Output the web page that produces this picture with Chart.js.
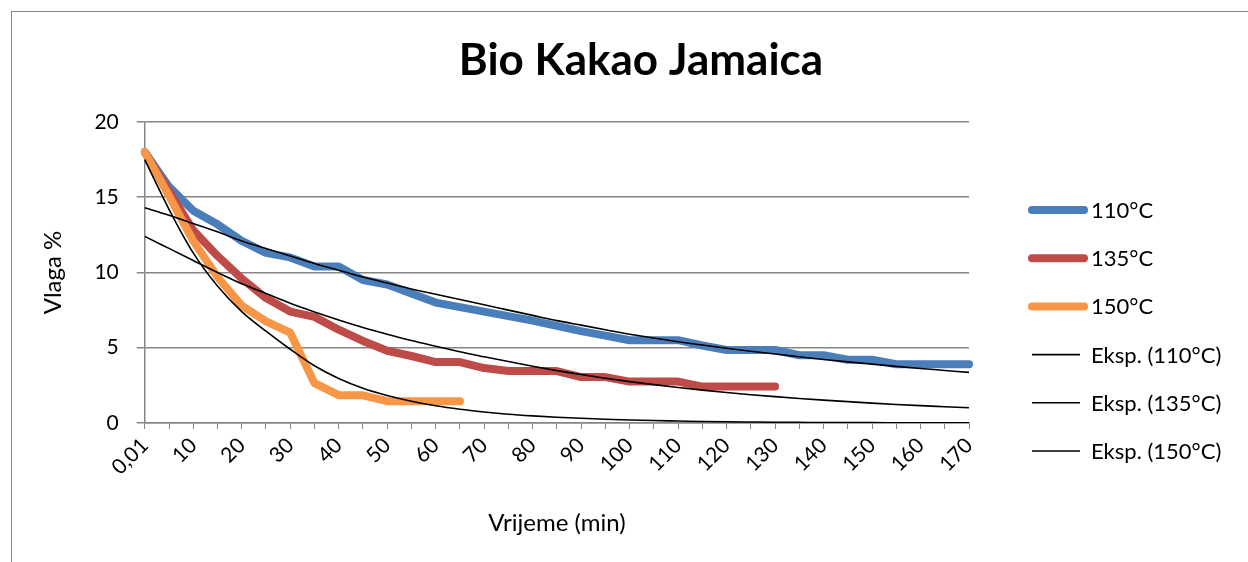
<!DOCTYPE html>
<html>
<head>
<meta charset="utf-8">
<script src="https://cdn.jsdelivr.net/npm/chart.js@4.4.1/dist/chart.umd.min.js"></script>
<style>
  html, body { margin: 0; padding: 0; background: #fff; overflow: hidden; }
  .frame { position: absolute; left: 11px; top: 11px; width: 1300px; height: 600px; border-left: 1px solid #868686; border-top: 1px solid #868686; }
  .box { position: absolute; left: 12px; top: 12px; width: 1258px; height: 550px; }
</style>
</head>
<body>
<div class="frame"></div>
<div class="box"><canvas id="dryingChart"></canvas></div>
<script>
// time categories (min)
const minutes = ['0,01', '5', '10', '15', '20', '25', '30', '35', '40', '45', '50', '55', '60', '65', '70', '75', '80', '85',
    '90', '95', '100', '105', '110', '115', '120', '125', '130', '135', '140', '145', '150', '155', '160', '165', '170'];

// measured moisture %
const vlaga110 = [18.0, 15.7, 14.1, 13.2, 12.1, 11.3, 11.0, 10.4, 10.4, 9.5, 9.2, 8.6, 8.0, 7.7, 7.4, 7.1, 6.8, 6.45,
    6.1, 5.8, 5.5, 5.5, 5.5, 5.15, 4.85, 4.85, 4.85, 4.5, 4.5, 4.2, 4.2, 3.9, 3.9, 3.9, 3.9];
const vlaga135 = [18.0, 15.4, 12.8, 11.1, 9.6, 8.3, 7.4, 7.05, 6.2, 5.45, 4.8, 4.45, 4.05, 4.05, 3.65, 3.45, 3.45, 3.45,
    3.05, 3.05, 2.75, 2.75, 2.75, 2.42, 2.42, 2.42, 2.42];
const vlaga150 = [18.0, 15.1, 12.1, 9.7, 7.8, 6.75, 6.0, 2.65, 1.85, 1.84, 1.45, 1.45, 1.45, 1.45];

// exponential trend lines
const eksp110 = [14.3, 13.8, 13.25, 12.7, 12.1, 11.6, 11.1, 10.6, 10.15, 9.7, 9.3, 8.9, 8.55, 8.2, 7.85, 7.5, 7.15, 6.8,
    6.5, 6.2, 5.9, 5.65, 5.4, 5.18, 4.97, 4.77, 4.58, 4.4, 4.22, 4.06, 3.91, 3.76, 3.62, 3.49, 3.36];
const eksp135 = [12.4, 11.6, 10.8, 10.0, 9.25, 8.6, 7.95, 7.38, 6.85, 6.35, 5.9, 5.48, 5.1, 4.73, 4.4, 4.08, 3.77, 3.48,
    3.22, 2.97, 2.75, 2.55, 2.36, 2.18, 2.02, 1.88, 1.75, 1.63, 1.52, 1.42, 1.32, 1.23, 1.15, 1.08, 1.01];
const eksp150 = [17.5, 14.2, 11.3, 9.1, 7.4, 6.1, 4.9, 3.8, 2.95, 2.3, 1.82, 1.44, 1.14, 0.91, 0.73, 0.58, 0.47, 0.38,
    0.31, 0.25, 0.2, 0.16, 0.13, 0.1, 0.08, 0.065, 0.05, 0.04, 0.03, 0.025, 0.02, 0.016, 0.013, 0.01, 0.008];

const seriesLabels = ['110°C', '135°C', '150°C', 'Eksp. (110°C)', 'Eksp. (135°C)', 'Eksp. (150°C)'];

const font = 'Lato';
const gridGray = '#868686';

function measured(label, data, color, order) {
    return {
        label: label,
        data: data,
        borderColor: color,
        backgroundColor: color,
        borderWidth: 8,
        borderCapStyle: 'round',
        borderJoinStyle: 'round',
        pointRadius: 0,
        pointHoverRadius: 0,
        tension: 0,
        order: order,
    };
}

function trend(label, data, order) {
    return {
        label: label,
        data: data,
        borderColor: '#000',
        backgroundColor: '#000',
        borderWidth: 1.6,
        pointRadius: 0,
        pointHoverRadius: 0,
        cubicInterpolationMode: 'monotone',
        order: order,
    };
}

// Excel-like legend on the right, one row per dataset in dataset order
const sideLegend = {
    id: 'sideLegend',
    afterDraw(chart) {
        const c = chart.ctx;
        const area = chart.chartArea;
        const x0 = area.right + 63;
        c.save();
        c.font = '22px ' + font;
        c.textBaseline = 'middle';
        c.fillStyle = '#000';
        chart.data.datasets.forEach((ds, i) => {
            const y = area.top + 88 + i * 48.2;
            const thick = ds.borderWidth > 2;
            c.beginPath();
            c.strokeStyle = ds.borderColor;
            c.lineWidth = ds.borderWidth;
            c.lineCap = thick ? 'round' : 'butt';
            c.moveTo(x0, y);
            c.lineTo(x0 + (thick ? 52 : 48), y);
            c.stroke();
            c.fillText(ds.label, x0 + 59, y + 1);
        });
        c.restore();
    }
};

const ctx = document.getElementById('dryingChart');
const myChart = new Chart(ctx, {
    type: 'line',
    data: {
        labels: minutes,
        datasets: [
            measured(seriesLabels[0], vlaga110, '#4a7ebb', 6),
            measured(seriesLabels[1], vlaga135, '#be4b48', 5),
            measured(seriesLabels[2], vlaga150, '#f79646', 4),
            trend(seriesLabels[3], eksp110, 3),
            trend(seriesLabels[4], eksp135, 2),
            trend(seriesLabels[5], eksp150, 1),
        ]
    },
    plugins: [sideLegend],
    options: {
        responsive: true,
        maintainAspectRatio: false,
        animation: false,
        layout: {
            padding: 0
        },
        plugins: {
            title: {
                display: true,
                text: 'Bio Kakao Jamaica',
                color: '#000',
                font: { family: font, size: 44, weight: 'bold' },
                padding: { top: 22.6, bottom: 34.6 },
            },
            legend: { display: false },
            tooltip: { enabled: false },
        },
        scales: {
            x: {
                offset: false,
                grid: {
                    drawOnChartArea: false,
                    drawTicks: true,
                    tickLength: 6,
                    color: gridGray,
                },
                border: { display: true, color: gridGray, width: 1.5 },
                ticks: {
                    autoSkip: false,
                    minRotation: 45,
                    maxRotation: 45,
                    padding: 4,
                    color: '#000',
                    font: { family: font, size: 21 },
                    callback: function (value, index) {
                        return index % 2 === 0 ? this.getLabelForValue(value) : '';
                    }
                },
                title: {
                    display: true,
                    text: 'Vrijeme (min)',
                    color: '#000',
                    font: { family: font, size: 24 },
                    padding: { top: 24.6, bottom: 24.6 },
                }
            },
            y: {
                min: 0,
                max: 20,
                grid: {
                    color: gridGray,
                    lineWidth: 1.5,
                    tickLength: 8,
                },
                border: { display: true, color: gridGray, width: 1.5 },
                ticks: {
                    stepSize: 5,
                    padding: 18,
                    color: '#000',
                    font: { family: font, size: 21 },
                },
                title: {
                    display: true,
                    text: 'Vlaga %',
                    color: '#000',
                    font: { family: font, size: 24 },
                    padding: { top: 26.6, bottom: 9 },
                }
            },
            // empty right-hand box that reserves room for the legend
            legendRoom: {
                position: 'right',
                display: true,
                grid: { display: false, drawTicks: false },
                border: { display: false },
                ticks: { display: false },
                afterFit: (scale) => { scale.width = 301; }
            }
        }
    }
});
</script>
</body>
</html>
